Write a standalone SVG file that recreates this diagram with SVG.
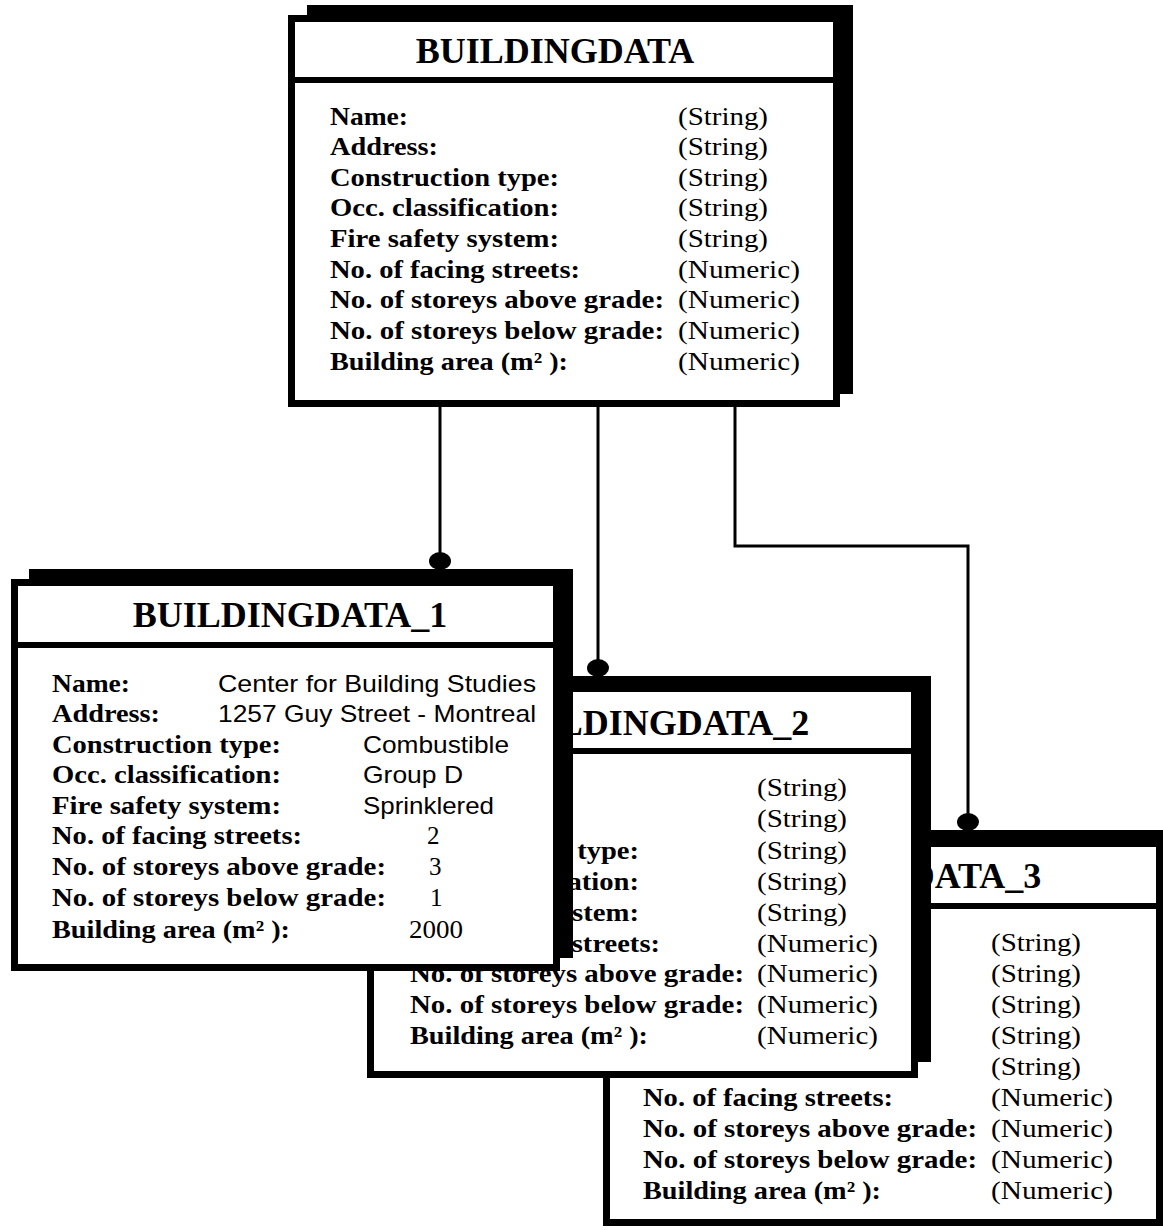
<svg xmlns="http://www.w3.org/2000/svg" width="1163" height="1230" viewBox="0 0 1163 1230">
  <style>
    .shadow { fill: #000; }
    .frame { fill: #fff; stroke: #000; stroke-width: 7; }
    .divider { stroke: #000; stroke-width: 6; }
    .title { font-family: "Liberation Serif", "Times New Roman", serif; font-weight: bold; font-size: 36px; text-anchor: middle; fill: #000; }
    .lbl { font-family: "Liberation Serif", "Times New Roman", serif; font-weight: bold; font-size: 25px; fill: #000; }
    .typ { font-family: "Liberation Serif", "Times New Roman", serif; font-size: 25px; fill: #000; }
    .val { font-family: "Liberation Sans", Arial, sans-serif; font-size: 24px; fill: #000; }
    .num { font-family: "Liberation Serif", "Times New Roman", serif; font-size: 25px; fill: #000; }
    .wire { fill: none; stroke: #000; stroke-width: 3; }
    .dot { fill: #000; }
  </style>

  <!-- Instance 3 (drawn first, sits behind instance 2) -->
  <g id="buildingdata-3">
    <rect class="shadow" x="621" y="830" width="560" height="380"/>
    <rect class="frame" x="606.5" y="843.5" width="553" height="379"/>
    <line class="divider" x1="606" y1="906" x2="1160" y2="906"/>
    <text class="title" x="884" y="888">BUILDINGDATA_3</text>
    <text class="lbl" x="643" y="1106" textLength="250" lengthAdjust="spacingAndGlyphs">No. of facing streets:</text>
    <text class="lbl" x="643" y="1137" textLength="334" lengthAdjust="spacingAndGlyphs">No. of storeys above grade:</text>
    <text class="lbl" x="643" y="1168" textLength="334" lengthAdjust="spacingAndGlyphs">No. of storeys below grade:</text>
    <text class="lbl" x="643" y="1199" textLength="238" lengthAdjust="spacingAndGlyphs">Building area (m² ):</text>
    <text class="typ" x="991" y="951" textLength="90" lengthAdjust="spacingAndGlyphs">(String)</text>
    <text class="typ" x="991" y="982" textLength="90" lengthAdjust="spacingAndGlyphs">(String)</text>
    <text class="typ" x="991" y="1013" textLength="90" lengthAdjust="spacingAndGlyphs">(String)</text>
    <text class="typ" x="991" y="1044" textLength="90" lengthAdjust="spacingAndGlyphs">(String)</text>
    <text class="typ" x="991" y="1075" textLength="90" lengthAdjust="spacingAndGlyphs">(String)</text>
    <text class="typ" x="991" y="1106" textLength="122" lengthAdjust="spacingAndGlyphs">(Numeric)</text>
    <text class="typ" x="991" y="1137" textLength="122" lengthAdjust="spacingAndGlyphs">(Numeric)</text>
    <text class="typ" x="991" y="1168" textLength="122" lengthAdjust="spacingAndGlyphs">(Numeric)</text>
    <text class="typ" x="991" y="1199" textLength="122" lengthAdjust="spacingAndGlyphs">(Numeric)</text>
  </g>

  <!-- Instance 2 -->
  <g id="buildingdata-2">
    <rect class="shadow" x="385" y="676" width="546" height="386"/>
    <rect class="frame" x="370.5" y="688.5" width="544" height="386"/>
    <line class="divider" x1="370" y1="751" x2="915" y2="751"/>
    <text class="title" x="652" y="735">BUILDINGDATA_2</text>
    <text class="lbl" x="410" y="859" textLength="229" lengthAdjust="spacingAndGlyphs">Construction type:</text>
    <text class="lbl" x="410" y="890" textLength="229" lengthAdjust="spacingAndGlyphs">Occ. classification:</text>
    <text class="lbl" x="410" y="921" textLength="229" lengthAdjust="spacingAndGlyphs">Fire safety system:</text>
    <text class="lbl" x="410" y="952" textLength="250" lengthAdjust="spacingAndGlyphs">No. of facing streets:</text>
    <text class="lbl" x="410" y="982" textLength="334" lengthAdjust="spacingAndGlyphs">No. of storeys above grade:</text>
    <text class="lbl" x="410" y="1013" textLength="334" lengthAdjust="spacingAndGlyphs">No. of storeys below grade:</text>
    <text class="lbl" x="410" y="1044" textLength="238" lengthAdjust="spacingAndGlyphs">Building area (m² ):</text>
    <text class="typ" x="757" y="796" textLength="90" lengthAdjust="spacingAndGlyphs">(String)</text>
    <text class="typ" x="757" y="827" textLength="90" lengthAdjust="spacingAndGlyphs">(String)</text>
    <text class="typ" x="757" y="859" textLength="90" lengthAdjust="spacingAndGlyphs">(String)</text>
    <text class="typ" x="757" y="890" textLength="90" lengthAdjust="spacingAndGlyphs">(String)</text>
    <text class="typ" x="757" y="921" textLength="90" lengthAdjust="spacingAndGlyphs">(String)</text>
    <text class="typ" x="757" y="952" textLength="121" lengthAdjust="spacingAndGlyphs">(Numeric)</text>
    <text class="typ" x="757" y="982" textLength="121" lengthAdjust="spacingAndGlyphs">(Numeric)</text>
    <text class="typ" x="757" y="1013" textLength="121" lengthAdjust="spacingAndGlyphs">(Numeric)</text>
    <text class="typ" x="757" y="1044" textLength="121" lengthAdjust="spacingAndGlyphs">(Numeric)</text>
  </g>

  <!-- Instance 1 with sample values (front-most) -->
  <g id="buildingdata-1">
    <rect class="shadow" x="29" y="569" width="544" height="389"/>
    <rect class="frame" x="14.5" y="582.5" width="542" height="385"/>
    <line class="divider" x1="14" y1="645" x2="557" y2="645"/>
    <text class="title" x="290" y="627">BUILDINGDATA_1</text>
    <text class="lbl" x="52" y="692" textLength="78" lengthAdjust="spacingAndGlyphs">Name:</text>
    <text class="lbl" x="52" y="722" textLength="108" lengthAdjust="spacingAndGlyphs">Address:</text>
    <text class="lbl" x="52" y="753" textLength="229" lengthAdjust="spacingAndGlyphs">Construction type:</text>
    <text class="lbl" x="52" y="783" textLength="229" lengthAdjust="spacingAndGlyphs">Occ. classification:</text>
    <text class="lbl" x="52" y="814" textLength="229" lengthAdjust="spacingAndGlyphs">Fire safety system:</text>
    <text class="lbl" x="52" y="844" textLength="250" lengthAdjust="spacingAndGlyphs">No. of facing streets:</text>
    <text class="lbl" x="52" y="875" textLength="334" lengthAdjust="spacingAndGlyphs">No. of storeys above grade:</text>
    <text class="lbl" x="52" y="906" textLength="334" lengthAdjust="spacingAndGlyphs">No. of storeys below grade:</text>
    <text class="lbl" x="52" y="938" textLength="238" lengthAdjust="spacingAndGlyphs">Building area (m² ):</text>
    <text class="val" x="218" y="692" textLength="318" lengthAdjust="spacingAndGlyphs">Center for Building Studies</text>
    <text class="val" x="218" y="722" textLength="318" lengthAdjust="spacingAndGlyphs">1257 Guy Street - Montreal</text>
    <text class="val" x="363" y="753" textLength="146" lengthAdjust="spacingAndGlyphs">Combustible</text>
    <text class="val" x="363" y="783" textLength="100" lengthAdjust="spacingAndGlyphs">Group D</text>
    <text class="val" x="363" y="814" textLength="131" lengthAdjust="spacingAndGlyphs">Sprinklered</text>
    <text class="num" x="427" y="844">2</text>
    <text class="num" x="429" y="875">3</text>
    <text class="num" x="430" y="906">1</text>
    <text class="num" x="409" y="938" textLength="54" lengthAdjust="spacingAndGlyphs">2000</text>
  </g>

  <!-- Parent entity -->
  <g id="buildingdata">
    <rect class="shadow" x="307" y="5" width="546" height="389"/>
    <rect class="frame" x="291.5" y="18.5" width="545" height="385"/>
    <line class="divider" x1="291" y1="80" x2="837" y2="80"/>
    <text class="title" x="555" y="63">BUILDINGDATA</text>
    <text class="lbl" x="330" y="125" textLength="78" lengthAdjust="spacingAndGlyphs">Name:</text>
    <text class="lbl" x="330" y="155" textLength="108" lengthAdjust="spacingAndGlyphs">Address:</text>
    <text class="lbl" x="330" y="186" textLength="229" lengthAdjust="spacingAndGlyphs">Construction type:</text>
    <text class="lbl" x="330" y="216" textLength="229" lengthAdjust="spacingAndGlyphs">Occ. classification:</text>
    <text class="lbl" x="330" y="247" textLength="229" lengthAdjust="spacingAndGlyphs">Fire safety system:</text>
    <text class="lbl" x="330" y="278" textLength="250" lengthAdjust="spacingAndGlyphs">No. of facing streets:</text>
    <text class="lbl" x="330" y="308" textLength="334" lengthAdjust="spacingAndGlyphs">No. of storeys above grade:</text>
    <text class="lbl" x="330" y="339" textLength="334" lengthAdjust="spacingAndGlyphs">No. of storeys below grade:</text>
    <text class="lbl" x="330" y="370" textLength="238" lengthAdjust="spacingAndGlyphs">Building area (m² ):</text>
    <text class="typ" x="678" y="125" textLength="90" lengthAdjust="spacingAndGlyphs">(String)</text>
    <text class="typ" x="678" y="155" textLength="90" lengthAdjust="spacingAndGlyphs">(String)</text>
    <text class="typ" x="678" y="186" textLength="90" lengthAdjust="spacingAndGlyphs">(String)</text>
    <text class="typ" x="678" y="216" textLength="90" lengthAdjust="spacingAndGlyphs">(String)</text>
    <text class="typ" x="678" y="247" textLength="90" lengthAdjust="spacingAndGlyphs">(String)</text>
    <text class="typ" x="678" y="278" textLength="122" lengthAdjust="spacingAndGlyphs">(Numeric)</text>
    <text class="typ" x="678" y="308" textLength="122" lengthAdjust="spacingAndGlyphs">(Numeric)</text>
    <text class="typ" x="678" y="339" textLength="122" lengthAdjust="spacingAndGlyphs">(Numeric)</text>
    <text class="typ" x="678" y="370" textLength="122" lengthAdjust="spacingAndGlyphs">(Numeric)</text>
  </g>

  <!-- Parent-to-instance connectors with filled-dot ends -->
  <g id="connectors">
    <path class="wire" d="M440 407 V561"/>
    <ellipse class="dot" cx="440" cy="561" rx="11" ry="9"/>
    <path class="wire" d="M598 407 V668"/>
    <ellipse class="dot" cx="598" cy="668" rx="11" ry="9"/>
    <path class="wire" d="M735 407 V546 H968 V822"/>
    <ellipse class="dot" cx="968" cy="822" rx="11" ry="9"/>
  </g>
</svg>
